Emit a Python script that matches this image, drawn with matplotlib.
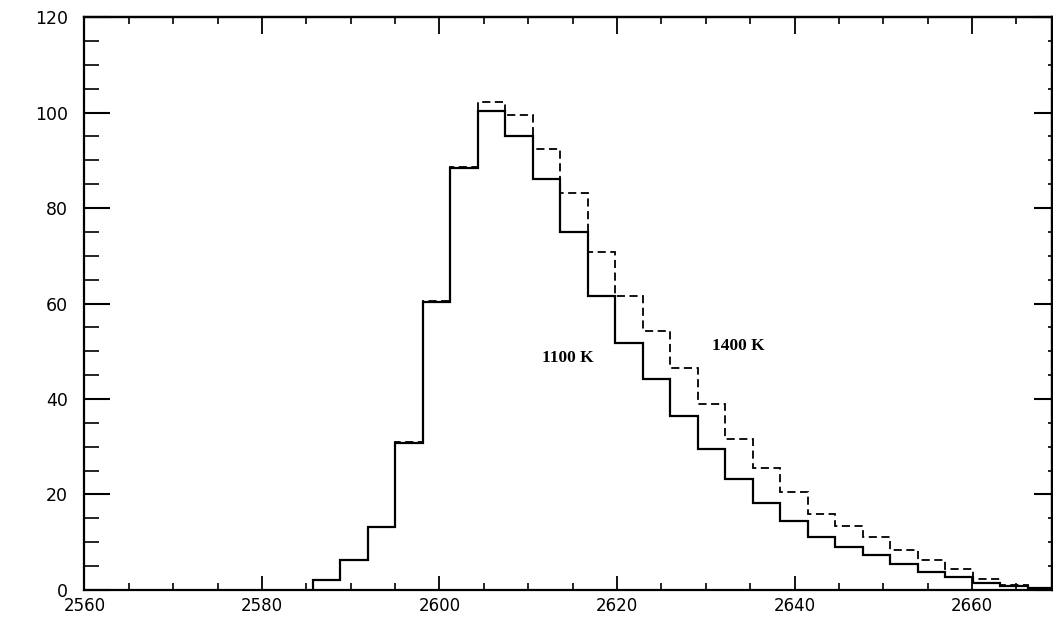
import matplotlib
matplotlib.use("Agg")
import matplotlib.pyplot as plt
from matplotlib.ticker import MultipleLocator

# bin edges (x)
bin_edges = [2585.7, 2588.8, 2591.9, 2595.0, 2598.1, 2601.2, 2604.3, 2607.4,
             2610.5, 2613.6, 2616.7, 2619.8, 2622.9, 2626.0, 2629.1, 2632.2,
             2635.3, 2638.4, 2641.5, 2644.6, 2647.7, 2650.8, 2653.9, 2657.0,
             2660.1, 2663.2, 2666.3, 2669.4, 2672.5]

# 1100 K histogram (solid)
counts_1100 = [2.1, 6.3, 13.2, 30.7, 60.4, 88.4, 100.3, 95.1, 86.1, 75.0,
               61.6, 51.7, 44.1, 36.5, 29.5, 23.3, 18.3, 14.5, 11.0, 9.1,
               7.3, 5.4, 3.8, 2.7, 1.5, 0.8, 0.4, 0.2]

# 1400 K histogram (dashed)
counts_1400 = [2.1, 6.3, 13.2, 30.9, 60.6, 88.6, 102.1, 99.5, 92.4, 83.2,
               70.7, 61.6, 54.2, 46.4, 38.9, 31.7, 25.5, 20.5, 15.9, 13.3,
               11.0, 8.4, 6.3, 4.3, 2.2, 1.0, 0.5, 0.2]

x_ticks = [2560, 2580, 2600, 2620, 2640, 2660]
y_ticks = [0, 20, 40, 60, 80, 100, 120]

fig = plt.figure(figsize=(10.53, 6.17), dpi=100)
ax = fig.add_axes([0.0802, 0.0438, 0.9188, 0.9286])

ax.stairs(counts_1400, bin_edges, baseline=0, color="black", lw=1.3,
          linestyle=(0, (4.5, 2.5)))
ax.stairs(counts_1100, bin_edges, baseline=0, color="black", lw=1.6)

ax.set_xlim(2560, 2669)
ax.set_ylim(0, 120)
ax.set_xticks(x_ticks)
ax.set_yticks(y_ticks)
ax.xaxis.set_minor_locator(MultipleLocator(5))
ax.yaxis.set_minor_locator(MultipleLocator(5))

for s in ax.spines.values():
    s.set_linewidth(1.6)

ax.tick_params(axis="y", which="major", direction="in", length=19, width=1.5,
               left=True, right=False, labelsize=12.5, pad=12)
ax.tick_params(axis="y", which="minor", direction="in", length=11, width=1.2,
               left=True, right=False)
ax.tick_params(axis="x", which="major", direction="in", length=10, width=1.3,
               bottom=True, top=False, labelsize=12, pad=5)
ax.tick_params(axis="x", which="minor", direction="in", length=5, width=1.2,
               bottom=True, top=False)

sec_y = ax.secondary_yaxis("right")
sec_y.set_yticks(y_ticks)
sec_y.yaxis.set_minor_locator(MultipleLocator(5))
sec_y.tick_params(which="major", direction="in", length=13, width=1.5, labelright=False)
sec_y.tick_params(which="minor", direction="in", length=3, width=1.2)
sec_y.spines["right"].set_linewidth(1.6)

sec_x = ax.secondary_xaxis("top")
sec_x.set_xticks(x_ticks)
sec_x.xaxis.set_minor_locator(MultipleLocator(5))
sec_x.tick_params(which="major", direction="in", length=12, width=1.3, labeltop=False)
sec_x.tick_params(which="minor", direction="in", length=5, width=1.2)
sec_x.spines["top"].set_linewidth(1.6)

for lab in ax.get_xticklabels() + ax.get_yticklabels():
    lab.set_fontfamily("DejaVu Sans")

ax.text(2611.6, 48.6, "1100 K", family="Liberation Serif", fontweight="bold",
        fontsize=12.5, va="center", ha="left")
ax.text(2630.7, 51.1, "1400 K", family="Liberation Serif", fontweight="bold",
        fontsize=12.5, va="center", ha="left")

fig.savefig("out.png", dpi=100)
